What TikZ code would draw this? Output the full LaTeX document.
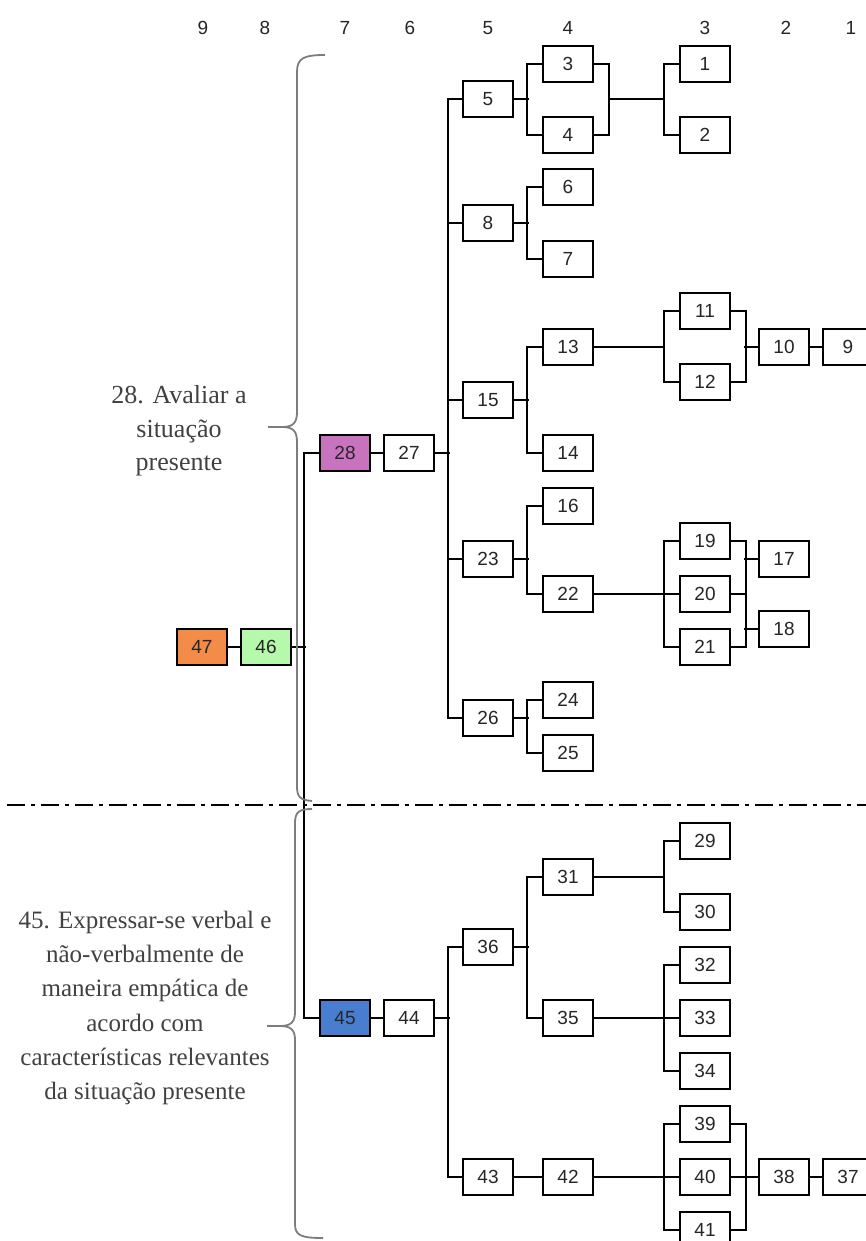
\documentclass[tikz,border=0pt]{standalone}
\usepackage{fontspec}
\setmainfont{Liberation Serif}
\newfontfamily\boxfont{Liberation Sans}
\definecolor{c47}{RGB}{242,140,72}
\definecolor{c46}{RGB}{182,248,172}
\definecolor{c28}{RGB}{200,115,190}
\definecolor{c45}{RGB}{72,125,208}
\definecolor{bracegray}{RGB}{125,125,125}
\definecolor{txtgray}{RGB}{65,65,65}
\tikzset{
  box/.style={draw=black, line width=1.8pt, minimum width=50pt, minimum height=36pt, inner sep=0pt,
    font=\boxfont\fontsize{19}{19}\selectfont, text=black!85},
  conn/.style={line width=1.8pt},
  hdr/.style={font=\boxfont\fontsize{19}{19}\selectfont, text=black!85},
  brc/.style={draw=bracegray, line width=1.8pt},
  lbl/.style={align=center, text=txtgray},
  sep/.style={line width=2.5pt, dash pattern=on 18pt off 6pt on 4pt off 6pt}
}
\begin{document}
\begin{tikzpicture}[x=1pt,y=-1pt]
\clip (0,0) rectangle (866,1241);
\fill[white] (0,0) rectangle (866,1241);
% column headers
\node[hdr] (h9) at (203,28) {9};
\node[hdr] (h8) at (265,28) {8};
\node[hdr] (h7) at (345,28) {7};
\node[hdr] (h6) at (410,28) {6};
\node[hdr] (h5) at (488,28) {5};
\node[hdr] (h4) at (568,28) {4};
\node[hdr] (h3) at (705,28) {3};
\node[hdr] (h2) at (786,28) {2};
\node[hdr] (h1) at (851,28) {1};
% top part
\node[box, fill=c47] (b47) at (202,647) {47};
\node[box, fill=c46] (b46) at (266,647) {46};
\node[box, fill=c28] (b28) at (345,453) {28};
\node[box] (b27) at (409,453) {27};
\node[box] (b5) at (488,99) {5};
\node[box] (b8) at (488,223) {8};
\node[box] (b15) at (488,400) {15};
\node[box] (b23) at (488,559) {23};
\node[box] (b26) at (488,718) {26};
\node[box] (b3) at (568,64) {3};
\node[box] (b4) at (568,135) {4};
\node[box] (b6) at (568,187) {6};
\node[box] (b7) at (568,259) {7};
\node[box] (b13) at (568,347) {13};
\node[box] (b14) at (568,453) {14};
\node[box] (b16) at (568,506) {16};
\node[box] (b22) at (568,594) {22};
\node[box] (b24) at (568,700) {24};
\node[box] (b25) at (568,753) {25};
\node[box] (b1) at (705,64) {1};
\node[box] (b2) at (705,135) {2};
\node[box] (b11) at (705,311) {11};
\node[box] (b12) at (705,382) {12};
\node[box] (b19) at (705,541) {19};
\node[box] (b20) at (705,594) {20};
\node[box] (b21) at (705,647) {21};
\node[box] (b10) at (784,347) {10};
\node[box] (b17) at (784,559) {17};
\node[box] (b18) at (784,629) {18};
\node[box] (b9) at (848,347) {9};
% bottom part
\node[box, fill=c45] (b45) at (345,1018) {45};
\node[box] (b44) at (409,1018) {44};
\node[box] (b36) at (488,947) {36};
\node[box] (b43) at (488,1177) {43};
\node[box] (b31) at (568,877) {31};
\node[box] (b35) at (568,1018) {35};
\node[box] (b42) at (568,1177) {42};
\node[box] (b29) at (705,841) {29};
\node[box] (b30) at (705,912) {30};
\node[box] (b32) at (705,965) {32};
\node[box] (b33) at (705,1018) {33};
\node[box] (b34) at (705,1071) {34};
\node[box] (b39) at (705,1124) {39};
\node[box] (b40) at (705,1177) {40};
\node[box] (b41) at (705,1230) {41};
\node[box] (b38) at (784,1177) {38};
\node[box] (b37) at (848,1177) {37};
% junction coordinates
\coordinate (m34) at (608,99);
\coordinate (m12) at (665,99);
\coordinate (j13) at (665,347);
\coordinate (j31) at (665,877);
% connectors top
\draw[conn] (b47.east) -- (b46.west);
\draw[conn] (b46.east) -- ++(14,0);
\draw[conn] (b28.west) -- ++(-15,0) |- (b45.west);
\draw[conn] (b28.east) -- (b27.west);
\draw[conn] (b27.east) -- ++(15,0);
\draw[conn] (b5.west) -- ++(-14,0) |- (b26.west);
\draw[conn] (b8.west) -- ++(-14,0);
\draw[conn] (b15.west) -- ++(-14,0);
\draw[conn] (b23.west) -- ++(-14,0);
\draw[conn] (b5.east) -- ++(15,0);
\draw[conn] (b3.west) -- ++(-15,0) |- (b4.west);
\draw[conn] (b3.east) -- ++(15,0) |- (b4.east);
\draw[conn] (m34) -- (m12);
\draw[conn] (b1.west) -- ++(-15,0) |- (b2.west);
\draw[conn] (b8.east) -- ++(15,0);
\draw[conn] (b6.west) -- ++(-15,0) |- (b7.west);
\draw[conn] (b15.east) -- ++(15,0);
\draw[conn] (b13.west) -- ++(-15,0) |- (b14.west);
\draw[conn] (b13.east) -- (j13);
\draw[conn] (b11.west) -- ++(-15,0) |- (b12.west);
\draw[conn] (b11.east) -- ++(15,0) |- (b12.east);
\draw[conn] (b10.west) -- ++(-14,0);
\draw[conn] (b10.east) -- (b9.west);
\draw[conn] (b23.east) -- ++(15,0);
\draw[conn] (b16.west) -- ++(-15,0) |- (b22.west);
\draw[conn] (b22.east) -- (b20.west);
\draw[conn] (b19.west) -- ++(-15,0) |- (b21.west);
\draw[conn] (b19.east) -- ++(15,0) |- (b21.east);
\draw[conn] (b20.east) -- ++(15,0);
\draw[conn] (b17.west) -- ++(-14,0);
\draw[conn] (b18.west) -- ++(-14,0);
\draw[conn] (b26.east) -- ++(15,0);
\draw[conn] (b24.west) -- ++(-15,0) |- (b25.west);
% connectors bottom
\draw[conn] (b45.east) -- (b44.west);
\draw[conn] (b44.east) -- ++(15,0);
\draw[conn] (b36.west) -- ++(-14,0) |- (b43.west);
\draw[conn] (b36.east) -- ++(15,0);
\draw[conn] (b31.west) -- ++(-15,0) |- (b35.west);
\draw[conn] (b31.east) -- (j31);
\draw[conn] (b29.west) -- ++(-15,0) |- (b30.west);
\draw[conn] (b35.east) -- (b33.west);
\draw[conn] (b32.west) -- ++(-15,0) |- (b34.west);
\draw[conn] (b43.east) -- (b42.west);
\draw[conn] (b42.east) -- (b40.west);
\draw[conn] (b39.west) -- ++(-15,0) |- (b41.west);
\draw[conn] (b39.east) -- ++(15,0) |- (b41.east);
\draw[conn] (b40.east) -- (b38.west);
\draw[conn] (b38.east) -- (b37.west);
% separator
\draw[sep] (7,805) -- (870,805);
% braces
\draw[brc] (325,55) .. controls (304,55) and (297,58) .. (297,72) -- (297,412)
  .. controls (297,423) and (293,427) .. (282,427) -- (268,427);
\draw[brc] (282,427) .. controls (293,427) and (297,431) .. (297,442) -- (297,786)
  .. controls (297,797) and (300,800) .. (312,801);
\draw[brc] (312,809) .. controls (299,809) and (295,812) .. (295,823) -- (295,1012)
  .. controls (295,1022) and (291,1026) .. (280,1026) -- (267,1026);
\draw[brc] (280,1026) .. controls (291,1026) and (295,1030) .. (295,1040) -- (295,1224)
  .. controls (295,1235) and (300,1238) .. (323,1238);
% labels
\node[lbl, font=\fontsize{26}{33.5}\selectfont] (t28) at (179,431) {28. Avaliar a\\situação\\presente};
\node[lbl, font=\fontsize{25}{34.3}\selectfont] (t45) at (145,1008) {45. Expressar-se verbal e\\não-verbalmente de\\maneira empática de\\acordo com\\características relevantes\\da situação presente};
\end{tikzpicture}
\end{document}
